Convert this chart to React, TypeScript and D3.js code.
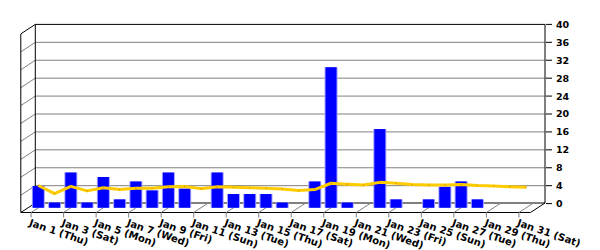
import React from 'react';
import * as d3 from 'd3';

const days = [
  'Jan 1 (Thu)', 'Jan 2 (Fri)', 'Jan 3 (Sat)', 'Jan 4 (Sun)', 'Jan 5 (Mon)', 'Jan 6 (Tue)',
  'Jan 7 (Wed)', 'Jan 8 (Thu)', 'Jan 9 (Fri)', 'Jan 10 (Sat)', 'Jan 11 (Sun)', 'Jan 12 (Mon)',
  'Jan 13 (Tue)', 'Jan 14 (Wed)', 'Jan 15 (Thu)', 'Jan 16 (Fri)', 'Jan 17 (Sat)', 'Jan 18 (Sun)',
  'Jan 19 (Mon)', 'Jan 20 (Tue)', 'Jan 21 (Wed)', 'Jan 22 (Thu)', 'Jan 23 (Fri)', 'Jan 24 (Sat)',
  'Jan 25 (Sun)', 'Jan 26 (Mon)', 'Jan 27 (Tue)', 'Jan 28 (Wed)', 'Jan 29 (Thu)', 'Jan 30 (Fri)',
  'Jan 31 (Sat)',
];

const barValues = [
  5, 1.3, 8, 1.3, 7, 2, 6, 4, 8, 4.4, 0, 8, 3.2, 3.2, 3.2, 1.3, 0, 6, 31.5, 1.3, 0, 17.7, 2, 0,
  2, 4.8, 6, 2, 0, 0, 0,
];

const lineValues = [
  5.1, 3.3, 4.9, 3.9, 4.6, 4.2, 4.5, 4.5, 4.8, 4.9, 4.4, 4.8, 4.7, 4.6, 4.5, 4.3, 4.0, 4.2, 5.6,
  5.4, 5.2, 5.8, 5.6, 5.3, 5.2, 5.2, 5.3, 5.1, 5.0, 4.8, 4.7,
];

const yTicks = [0, 4, 8, 12, 16, 20, 24, 28, 32, 36, 40];

const W = 600;
const H = 250;
const BACK_LEFT = 35.3;
const BACK_RIGHT = 545;
const FLOOR_Y = 203;
const DX = 14.5;
const DY = 9.5;
const FONT = 'DejaVu Sans, Verdana, sans-serif';

export default function App() {
  const x = d3.scalePoint<string>().domain(days).range([35, 544]).padding(0.65);
  const yB = d3.scaleLinear().domain([0, 40]).range([203.6, 24.4]);
  const top = yB(40);
  const midX = (d: string) => (x(d) as number) - DX / 2;
  const midY = (v: number) => yB(v) + DY / 2;
  const floorMid = FLOOR_Y + DY / 2;

  const line = d3
    .line<number>()
    .x((_, i) => midX(days[i]))
    .y((v) => midY(v));

  const gridVals = yTicks.filter((v) => v > 0 && v < 40);
  const labelDays = days.filter((_, i) => i % 2 === 0);

  return (
    <svg
      width={W}
      height={H}
      style={{ position: 'absolute', left: 0, top: 0, background: '#fff' }}
    >
      {gridVals.map((v) => (
        <line key={'g' + v} x1={BACK_LEFT} x2={BACK_RIGHT} y1={yB(v)} y2={yB(v)} stroke="#808080" strokeWidth={1} />
      ))}
      {gridVals.map((v) => (
        <line key={'lg' + v} x1={BACK_LEFT - DX} x2={BACK_LEFT} y1={yB(v) + DY} y2={yB(v)} stroke="#808080" strokeWidth={1} />
      ))}
      <line x1={BACK_LEFT} x2={BACK_RIGHT} y1={top} y2={top} stroke="#000" strokeWidth={1} />
      <line x1={BACK_LEFT} x2={BACK_LEFT} y1={top} y2={FLOOR_Y} stroke="#000" strokeWidth={1} />
      <line x1={BACK_RIGHT} x2={BACK_RIGHT} y1={top} y2={FLOOR_Y} stroke="#000" strokeWidth={1} />
      <line x1={BACK_LEFT - DX} x2={BACK_LEFT - DX} y1={top + DY} y2={FLOOR_Y + DY} stroke="#000" strokeWidth={1} />
      <line x1={BACK_LEFT - DX} x2={BACK_LEFT} y1={top + DY} y2={top} stroke="#000" strokeWidth={1} />
      <line x1={BACK_LEFT} x2={BACK_RIGHT} y1={FLOOR_Y} y2={FLOOR_Y} stroke="#000" strokeWidth={1} />
      <line x1={BACK_LEFT - DX} x2={BACK_RIGHT - DX} y1={FLOOR_Y + DY} y2={FLOOR_Y + DY} stroke="#000" strokeWidth={1} />
      <line x1={BACK_LEFT - DX} x2={BACK_LEFT} y1={FLOOR_Y + DY} y2={FLOOR_Y} stroke="#000" strokeWidth={1} />
      <line x1={BACK_RIGHT - DX} x2={BACK_RIGHT} y1={FLOOR_Y + DY} y2={FLOOR_Y} stroke="#000" strokeWidth={1} />
      {labelDays.map((d) => {
        const fx = (x(d) as number) - DX;
        return (
          <g key={'t' + d}>
            <line x1={fx} x2={fx + DX} y1={FLOOR_Y + DY} y2={FLOOR_Y} stroke="#808080" strokeWidth={1} />
            <line x1={fx} x2={fx} y1={FLOOR_Y + DY} y2={FLOOR_Y + DY + 5} stroke="#808080" strokeWidth={1} />
          </g>
        );
      })}
      {barValues.map((v, i) => {
        if (v <= 0) return null;
        const cx = midX(days[i]);
        const yTop = midY(v);
        return (
          <g key={'b' + i}>
            <rect x={cx - 6.5} y={yTop} width={13} height={floorMid - yTop} fill="#a0a0ff" />
            <rect x={cx - 5.5} y={yTop} width={11} height={floorMid - yTop} fill="#0000ff" />
          </g>
        );
      })}
      <path d={line(lineValues) || ''} fill="none" stroke="#ffcc00" strokeWidth={3} strokeLinejoin="round" />
      {lineValues.map((v, i) => (
        <circle key={'c' + i} cx={midX(days[i])} cy={midY(v)} r={0.8} fill="#d4a000" />
      ))}
      {yTicks.map((v) => (
        <g key={'yt' + v}>
          <line x1={BACK_RIGHT + 1} x2={BACK_RIGHT + 7} y1={yB(v)} y2={yB(v)} stroke="#000" strokeWidth={1} />
          <text x={BACK_RIGHT + 11} y={yB(v)} dy="0.36em" fontFamily={FONT} fontWeight="bold" fontSize={9.5} fill="#000">
            {v}
          </text>
        </g>
      ))}
      {labelDays.map((d) => {
        const fx = (x(d) as number) - DX - 2.5;
        const fy = 225.5;
        return (
          <text
            key={'xl' + d}
            x={fx}
            y={fy}
            transform={`rotate(19, ${fx}, ${fy})`}
            fontFamily={FONT}
            fontWeight="bold"
            fontSize={10}
            fill="#000"
          >
            {d}
          </text>
        );
      })}
    </svg>
  );
}
